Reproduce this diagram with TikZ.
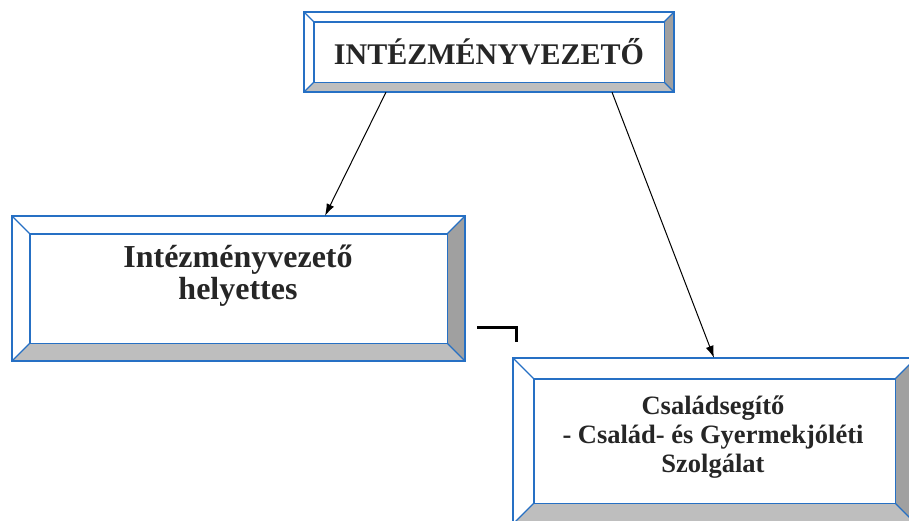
\documentclass[tikz,border=0pt]{standalone}
\usepackage{fontspec}
\setmainfont{Liberation Serif}
\usetikzlibrary{arrows.meta}

\definecolor{boxblue}{RGB}{38,112,196}
\definecolor{bevlight}{RGB}{190,190,190}
\definecolor{bevdark}{RGB}{160,160,160}

\tikzset{
  box/.style={draw=none, inner sep=0pt},
  lbl/.style={font=\bfseries, align=center, text=black!85},
  arr/.style={-{Latex[length=12pt,width=8pt]}, line width=1pt},
}

% bevelled frame round a named box node: #1 name, #2 bevel depth
\newcommand{\bevelbox}[2]{%
  \coordinate (#1-a) at ([shift={(#2,#2)}]#1.north west);
  \coordinate (#1-b) at ([shift={(-#2,#2)}]#1.north east);
  \coordinate (#1-c) at ([shift={(-#2,-#2)}]#1.south east);
  \coordinate (#1-d) at ([shift={(#2,-#2)}]#1.south west);
  \fill[bevlight] (#1.south west) -- (#1.south east) -- (#1-c) -- (#1-d) -- cycle;
  \fill[bevdark] (#1.north east) -- (#1.south east) -- (#1-c) -- (#1-b) -- cycle;
  \draw[boxblue, line width=2pt] (#1.north west) rectangle (#1.south east);
  \draw[boxblue, line width=1.4pt] (#1-a) rectangle (#1-c);
  \draw[boxblue, line width=1.2pt] (#1.north west) -- (#1-a)
    (#1.north east) -- (#1-b) (#1.south east) -- (#1-c) (#1.south west) -- (#1-d);
}

\begin{document}
\begin{tikzpicture}[x=1pt, y=-1pt]
  \clip (0,0) rectangle (909,520);

  \node[box, minimum width=370pt, minimum height=80pt] (vez) at (489,52) {};
  \node[box, minimum width=453pt, minimum height=145pt] (help) at (238.5,288.5) {};
  \node[box, minimum width=403pt, minimum height=166pt] (csal) at (714.5,441) {};

  \bevelbox{vez}{10}
  \bevelbox{help}{18}
  \bevelbox{csal}{21}

  \node[lbl, font=\bfseries\fontsize{30}{30}\selectfont] (vezt) at (489,52) {INTÉZMÉNYVEZETŐ};
  \node[lbl, font=\bfseries\fontsize{32}{32}\selectfont] (helpt) at (238,276) {Intézményvezető\\helyettes};
  \node[lbl, font=\bfseries\fontsize{26.5}{29}\selectfont] (csalt) at (713,437) {Családsegítő\\- Család- és Gyermekjóléti\\Szolgálat};

  \draw[arr] ([shift={(-103,0)}]vez.south) -- ([shift={(86.5,0)}]help.north);
  \draw[arr] ([shift={(123,0)}]vez.south) -- ([shift={(-0.5,0)}]csal.north);

  % stray mark beside the deputy box
  \draw[line width=3pt] (477,327) -- (516,327) -- (516,342);
\end{tikzpicture}
\end{document}
